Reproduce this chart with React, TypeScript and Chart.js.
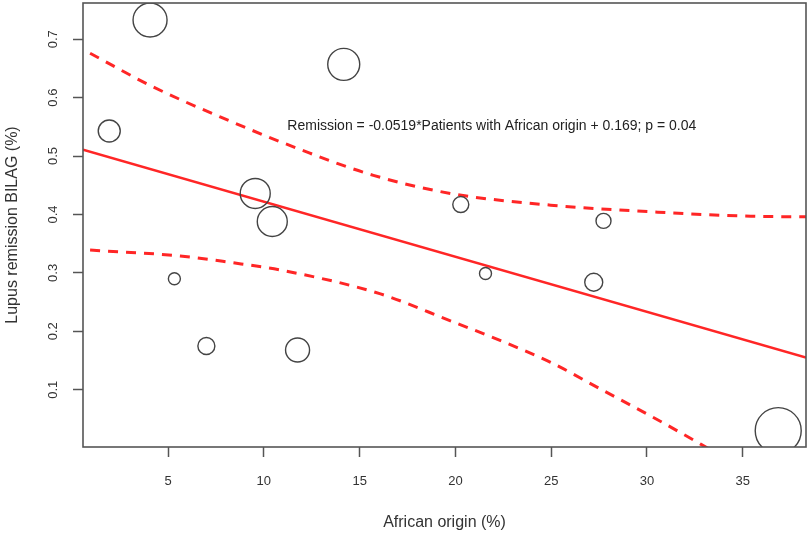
import React, { useEffect, useRef } from "react";
import { Chart, registerables } from "chart.js";

Chart.register(...registerables);

// Observed studies: African origin (%) vs lupus remission (BILAG)
const africanOrigin = [4.06, 1.93, 14.17, 9.55, 10.44, 5.33, 7.0, 11.76, 20.28, 21.57, 27.73, 27.22, 36.85];
const remission = [0.733, 0.543, 0.657, 0.436, 0.388, 0.29, 0.175, 0.168, 0.417, 0.299, 0.389, 0.284, 0.03];
const bubbleSize = [17, 11, 16, 15, 15, 6, 8.5, 12, 8, 6, 7.5, 9, 23];

// Fitted regression line
const fitX = [0.56, 38.3];
const fitY = [0.511, 0.155];

// Confidence band (upper / lower)
const upperX = [0.93, 4.06, 7.72, 12.4, 15.72, 19.74, 24.97, 30.56, 35.42, 38.5];
const upperY = [0.676, 0.621, 0.567, 0.505, 0.467, 0.436, 0.416, 0.404, 0.397, 0.396];
const lowerX = [0.93, 5.63, 8.24, 10.86, 16.09, 19.74, 22.36, 24.97, 27.58, 30.2, 32.8, 33.8];
const lowerY = [0.339, 0.329, 0.318, 0.305, 0.264, 0.218, 0.184, 0.147, 0.101, 0.055, 0.007, -0.012];

const xTicks = [5, 10, 15, 20, 25, 30, 35];
const yTicks = [0.1, 0.2, 0.3, 0.4, 0.5, 0.6, 0.7];
const xRange = [0.56, 38.3];
const yRange = [0.002, 0.762];

const xTitle = "African origin (%)";
const yTitle = "Lupus remission BILAG (%)";
const equationText = "Remission = -0.0519*Patients with African origin + 0.169; p = 0.04";
const equationAt = { x: 21.9, y: 0.551 };

const FONT = "'Liberation Sans', Arial, sans-serif";
const RED = "#ff2626";

const boxPlugin = {
  id: "rbox",
  afterDraw(chart: any) {
    const { ctx, chartArea, scales } = chart;
    ctx.save();
    ctx.strokeStyle = "#555";
    ctx.lineWidth = 1.6;
    ctx.strokeRect(chartArea.left, chartArea.top, chartArea.right - chartArea.left, chartArea.bottom - chartArea.top);
    ctx.fillStyle = "#222";
    ctx.font = `14px ${FONT}`;
    ctx.textAlign = "center";
    ctx.textBaseline = "middle";
    ctx.fillText(equationText, scales.x.getPixelForValue(equationAt.x), scales.y.getPixelForValue(equationAt.y));
    ctx.restore();
  },
};

const zeroPad = (s: any) => {
  s.paddingLeft = 0;
  s.paddingRight = 0;
  s.paddingTop = 0;
  s.paddingBottom = 0;
};

export default function App() {
  const ref = useRef<HTMLCanvasElement>(null);

  useEffect(() => {
    if (!ref.current) return;
    const pts = (xs: number[], ys: number[]) => xs.map((x, i) => ({ x, y: ys[i] }));
    const chart = new Chart(ref.current, {
      type: "bubble",
      data: {
        datasets: [
          {
            type: "bubble",
            data: africanOrigin.map((x, i) => ({ x, y: remission[i], r: bubbleSize[i] })),
            backgroundColor: "rgba(0,0,0,0)",
            borderColor: "#444",
            borderWidth: 1.4,
            hoverBorderWidth: 1.4,
            clip: 0,
          } as any,
          {
            type: "line",
            data: pts(fitX, fitY),
            borderColor: RED,
            borderWidth: 2.6,
            pointRadius: 0,
            clip: 0,
          } as any,
          {
            type: "line",
            data: pts(upperX, upperY),
            borderColor: RED,
            borderWidth: 3,
            borderDash: [10, 8],
            pointRadius: 0,
            cubicInterpolationMode: "monotone",
            clip: 0,
          } as any,
          {
            type: "line",
            data: pts(lowerX, lowerY),
            borderColor: RED,
            borderWidth: 3,
            borderDash: [10, 8],
            pointRadius: 0,
            cubicInterpolationMode: "monotone",
            clip: 0,
          } as any,
        ],
      },
      options: {
        responsive: false,
        animation: false,
        devicePixelRatio: 1,
        layout: { autoPadding: false, padding: { top: 3, right: 1, bottom: 0, left: 0 } },
        plugins: { legend: { display: false }, tooltip: { enabled: false }, title: { display: false } },
        scales: {
          x: {
            type: "linear",
            min: xRange[0],
            max: xRange[1],
            afterBuildTicks: (s: any) => {
              s.ticks = xTicks.map((v) => ({ value: v }));
            },
            afterFit: (s: any) => {
              s.height = 94;
              zeroPad(s);
            },
            border: { display: false },
            grid: { display: true, drawOnChartArea: false, drawTicks: true, tickLength: 10, tickColor: "#555", tickWidth: 1.5 },
            ticks: {
              callback: (v: any) => String(v),
              font: { family: FONT, size: 13 },
              color: "#333",
              padding: 17,
              maxRotation: 0,
              autoSkip: false,
            },
            title: { display: true, text: xTitle, font: { family: FONT, size: 16 }, color: "#333", padding: { top: 0, bottom: 8.6 } },
          },
          y: {
            type: "linear",
            min: yRange[0],
            max: yRange[1],
            afterBuildTicks: (s: any) => {
              s.ticks = yTicks.map((v) => ({ value: v }));
            },
            afterFit: (s: any) => {
              s.width = 83;
              zeroPad(s);
            },
            border: { display: false },
            grid: { display: true, drawOnChartArea: false, drawTicks: true, tickLength: 10, tickColor: "#555", tickWidth: 1.5 },
            ticks: {
              callback: (v: any) => Number(v).toFixed(1),
              font: { family: FONT, size: 13 },
              color: "#333",
              padding: 11,
              minRotation: 90,
              maxRotation: 90,
              crossAlign: "center",
              autoSkip: false,
            },
            title: { display: true, text: yTitle, font: { family: FONT, size: 16 }, color: "#333", padding: { top: 2.6, bottom: 0 } },
          },
        },
      } as any,
      plugins: [boxPlugin],
    });
    return () => chart.destroy();
  }, []);

  return (
    <div style={{ position: "absolute", left: 0, top: 0, width: 807, height: 541, background: "#fff" }}>
      <canvas ref={ref} width={807} height={541} style={{ width: 807, height: 541, display: "block" }} />
    </div>
  );
}
